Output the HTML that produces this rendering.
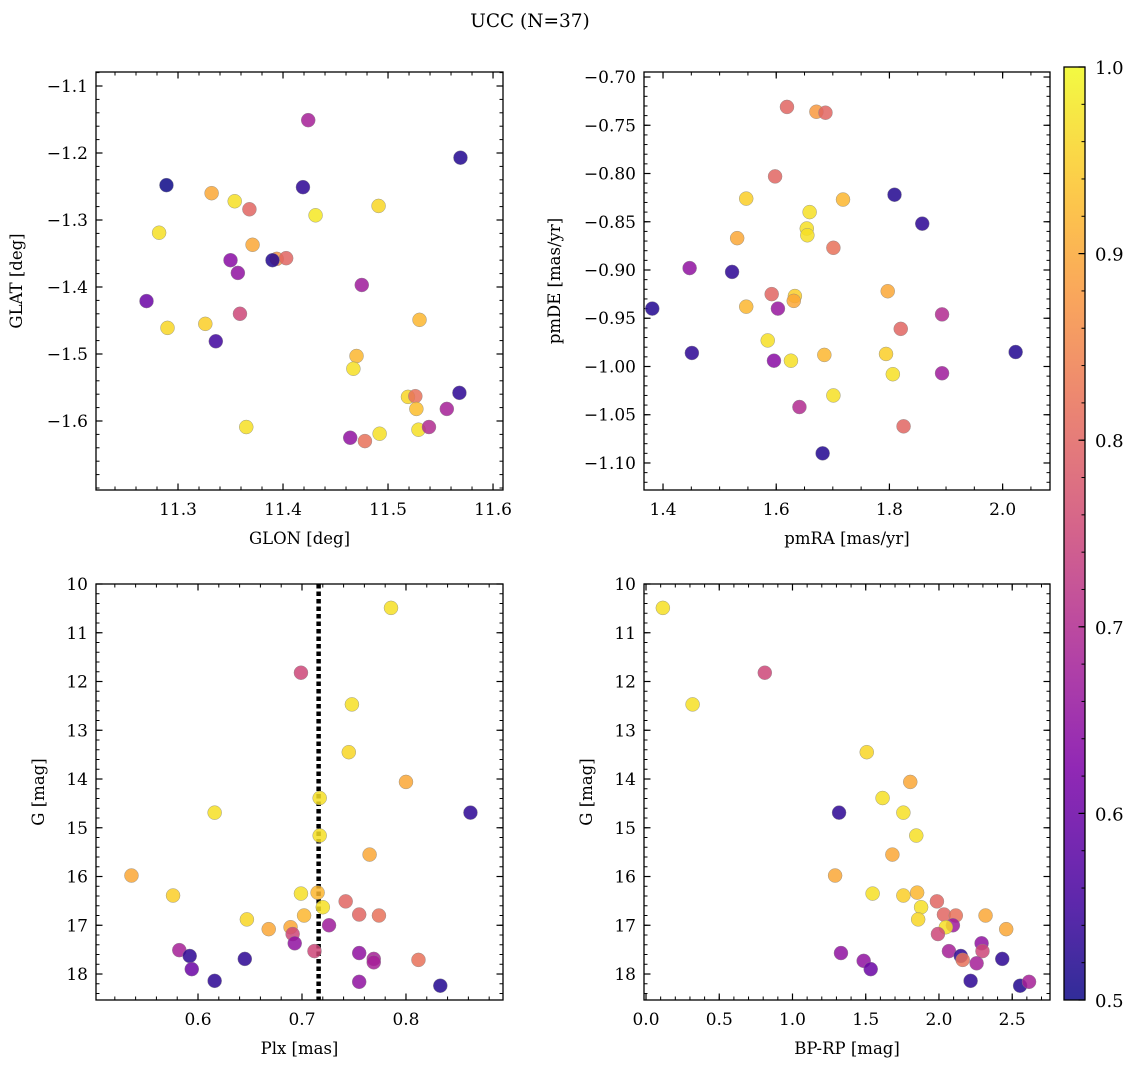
<!DOCTYPE html>
<html><head><meta charset="utf-8"><style>
body{margin:0;background:#fff;}
svg{display:block;font-family:"DejaVu Serif","Liberation Serif",serif;}
</style></head><body>
<svg id="fig" width="1136" height="1067" viewBox="0 0 1136 1067">
<text x="530" y="27" font-size="18.5" text-anchor="middle">UCC (N=37)</text>
</svg>
<script>
// Panel 1: GLON / GLAT
const glon=[11.424,11.569,11.289,11.419,11.332,11.354,11.368,11.491,11.431,11.282,11.371,11.394,11.403,11.390,11.350,11.357,11.475,11.270,11.359,11.290,11.326,11.336,11.530,11.470,11.467,11.568,11.519,11.526,11.556,11.527,11.365,11.529,11.539,11.464,11.478,11.492];
const glat=[-1.151,-1.207,-1.248,-1.251,-1.260,-1.272,-1.284,-1.279,-1.293,-1.319,-1.337,-1.358,-1.357,-1.360,-1.360,-1.379,-1.397,-1.421,-1.440,-1.461,-1.455,-1.481,-1.449,-1.503,-1.522,-1.558,-1.564,-1.563,-1.582,-1.582,-1.609,-1.613,-1.609,-1.625,-1.630,-1.619];
const prob1=[0.68,0.52,0.5,0.53,0.9,0.97,0.8,0.96,0.98,0.97,0.9,0.87,0.8,0.52,0.64,0.65,0.67,0.6,0.75,0.96,0.95,0.55,0.92,0.92,0.97,0.53,0.96,0.82,0.68,0.93,0.97,0.97,0.7,0.65,0.82,0.97];
// Panel 2: pmRA / pmDE
const pmra=[1.619,1.671,1.687,1.598,1.809,1.547,1.718,1.659,1.858,1.654,1.655,1.531,1.701,1.447,1.522,1.797,1.592,1.633,1.631,1.547,1.603,1.381,1.820,1.893,1.585,1.451,1.794,1.685,2.023,1.596,1.626,1.806,1.893,1.701,1.641,1.825,1.682];
const pmde=[-0.731,-0.736,-0.737,-0.803,-0.822,-0.826,-0.827,-0.840,-0.852,-0.857,-0.864,-0.867,-0.877,-0.898,-0.902,-0.922,-0.925,-0.927,-0.932,-0.938,-0.940,-0.940,-0.961,-0.946,-0.973,-0.986,-0.987,-0.988,-0.985,-0.994,-0.994,-1.008,-1.007,-1.030,-1.042,-1.062,-1.090];
const prob2=[0.8,0.88,0.8,0.8,0.52,0.95,0.92,0.97,0.53,0.97,0.97,0.9,0.82,0.65,0.53,0.9,0.8,0.95,0.9,0.92,0.66,0.52,0.8,0.7,0.97,0.53,0.95,0.92,0.52,0.64,0.97,0.97,0.67,0.97,0.7,0.8,0.52];
// Panel 3: Plx / G
const plx=[0.7856,0.699,0.748,0.745,0.800,0.616,0.862,0.717,0.717,0.765,0.536,0.576,0.699,0.715,0.742,0.720,0.702,0.755,0.774,0.647,0.726,0.689,0.668,0.691,0.693,0.712,0.582,0.592,0.755,0.769,0.769,0.812,0.645,0.594,0.616,0.755,0.833];
const gmag3=[10.49,11.82,12.47,13.45,14.06,14.69,14.69,14.39,15.16,15.55,15.98,16.39,16.35,16.33,16.51,16.63,16.80,16.78,16.80,16.88,17.00,17.04,17.08,17.18,17.37,17.53,17.51,17.63,17.57,17.69,17.76,17.71,17.69,17.90,18.14,18.16,18.24];
const prob3=[0.97,0.75,0.97,0.96,0.9,0.97,0.53,0.97,0.97,0.9,0.9,0.95,0.97,0.92,0.8,0.97,0.92,0.8,0.82,0.96,0.67,0.9,0.9,0.75,0.65,0.75,0.68,0.53,0.65,0.68,0.68,0.82,0.53,0.6,0.53,0.65,0.52];
const plxLine=[0.716];
// Panel 4: BP-RP / G
const bprp=[0.115,0.811,0.318,1.507,1.804,1.318,1.615,1.757,1.845,1.682,1.291,1.547,1.757,1.851,1.986,1.878,2.034,2.115,2.318,1.858,2.095,2.047,2.459,1.993,2.291,2.297,2.068,2.149,1.331,2.432,2.162,2.257,1.486,1.534,2.216,2.554,2.615];
const gmag4=[10.49,11.82,12.47,13.45,14.06,14.69,14.39,14.69,15.16,15.55,15.98,16.35,16.39,16.33,16.51,16.63,16.78,16.80,16.80,16.88,17.00,17.04,17.08,17.18,17.37,17.53,17.53,17.63,17.57,17.69,17.71,17.78,17.73,17.90,18.14,18.24,18.16];
const prob4=[0.97,0.75,0.97,0.96,0.9,0.53,0.97,0.97,0.97,0.9,0.9,0.97,0.95,0.92,0.8,0.97,0.8,0.82,0.9,0.96,0.67,0.97,0.9,0.75,0.65,0.75,0.68,0.53,0.65,0.53,0.82,0.68,0.65,0.6,0.53,0.52,0.68];
// tick arrays
const ticks1x=[11.3,11.4,11.5,11.6], ticks1y=[-1.1,-1.2,-1.3,-1.4,-1.5,-1.6];
const ticks2x=[1.4,1.6,1.8,2.0], ticks2y=[-0.70,-0.75,-0.80,-0.85,-0.90,-0.95,-1.00,-1.05,-1.10];
const ticks3x=[0.6,0.7,0.8], ticksG=[10,11,12,13,14,15,16,17,18];
const ticks4x=[0.0,0.5,1.0,1.5,2.0,2.5];
const cbTicks=[0.5,0.6,0.7,0.8,0.9,1.0];

const NS="http://www.w3.org/2000/svg";
const svg=document.getElementById('fig');
function mk(tag,attrs,parent){const e=document.createElementNS(NS,tag);for(const k in attrs)e.setAttribute(k,attrs[k]);(parent||svg).appendChild(e);return e;}
const stops=[[0,[13,8,135]],[0.125,[76,2,161]],[0.25,[126,3,168]],[0.375,[169,35,149]],[0.5,[204,71,120]],[0.625,[230,108,92]],[0.75,[248,149,64]],[0.875,[253,195,40]],[1,[240,249,33]]];
function plasma(t){t=Math.max(0,Math.min(1,t));for(let i=1;i<stops.length;i++){if(t<=stops[i][0]){const a=stops[i-1],b=stops[i];const f=(t-a[0])/(b[0]-a[0]);const c=a[1].map((v,j)=>Math.round(v+(b[1][j]-v)*f));return `rgb(${c.join(',')})`;}}return 'rgb(240,249,33)';}
function pc(p){return plasma((p-0.5)/0.5);}
function fmt(v,d){return (v<0?'\u2212':'')+Math.abs(v).toFixed(d);}

function panel(o){
  const g=mk('g',{});
  
  
  const sx=v=>o.x0+(v-o.xd[0])/(o.xd[1]-o.xd[0])*(o.x1-o.x0);
  const sy=v=>o.y0+(v-o.yd[0])/(o.yd[1]-o.yd[0])*(o.y1-o.y0);
  const xmin=Math.min(...o.xd),xmax=Math.max(...o.xd),ymin=Math.min(...o.yd),ymax=Math.max(...o.yd);
  for(let v=Math.ceil(xmin/o.xm-1e-6)*o.xm;v<=xmax+1e-9;v+=o.xm){const X=sx(v);mk('line',{x1:X,x2:X,y1:o.y1,y2:o.y1-3.5,stroke:'#000','stroke-width':1},g);mk('line',{x1:X,x2:X,y1:o.y0,y2:o.y0+3.5,stroke:'#000','stroke-width':1},g);}
  for(let v=Math.ceil(ymin/o.ym-1e-6)*o.ym;v<=ymax+1e-9;v+=o.ym){const Y=sy(v);mk('line',{x1:o.x0,x2:o.x0+3.5,y1:Y,y2:Y,stroke:'#000','stroke-width':1},g);mk('line',{x1:o.x1,x2:o.x1-3.5,y1:Y,y2:Y,stroke:'#000','stroke-width':1},g);}
  o.xt.forEach(v=>{const X=sx(v);mk('line',{x1:X,x2:X,y1:o.y1,y2:o.y1-6.5,stroke:'#000','stroke-width':1.2},g);mk('line',{x1:X,x2:X,y1:o.y0,y2:o.y0+6.5,stroke:'#000','stroke-width':1.2},g);
    const t=mk('text',{x:X,y:o.y1+25,'font-size':17,'text-anchor':'middle'},g);t.textContent=fmt(v,o.xdp);
    
    });
  o.yt.forEach(v=>{const Y=sy(v);mk('line',{x1:o.x0,x2:o.x0+6.5,y1:Y,y2:Y,stroke:'#000','stroke-width':1.2},g);mk('line',{x1:o.x1,x2:o.x1-6.5,y1:Y,y2:Y,stroke:'#000','stroke-width':1.2},g);
    const t=mk('text',{x:o.x0-8,y:Y+6,'font-size':17,'text-anchor':'end'},g);t.textContent=fmt(v,o.ydp);
    
    });
  if(o.vline){o.vline.forEach(v=>{const l=mk('line',{x1:sx(v),x2:sx(v),y1:o.y0,y2:o.y1,stroke:'#000','stroke-width':4.5,'stroke-dasharray':'4.5,3'},g);
    
    });}
  o.xs.forEach((v,i)=>{const c=mk('circle',{cx:sx(v),cy:sy(o.ys[i]),r:7,fill:pc(o.p[i]),'fill-opacity':0.85,stroke:'#888','stroke-width':0.5,'stroke-opacity':0.8},g);
    
    });
  mk('rect',{x:o.x0,y:o.y0,width:o.x1-o.x0,height:o.y1-o.y0,fill:'none',stroke:'#000','stroke-width':1.3},g);
  const xl=mk('text',{x:(o.x0+o.x1)/2,y:o.y1+54,'font-size':16.5,'text-anchor':'middle'},g);xl.textContent=o.xl;
  
  
  const cy=(o.y0+o.y1)/2;
  const yl=mk('text',{x:o.ylx,y:cy,'font-size':16.5,'text-anchor':'middle',transform:`rotate(-90 ${o.ylx} ${cy})`},g);yl.textContent=o.yl;
  
  
}
panel({name:'glon-glat-panel',x0:96,x1:503,y0:72,y1:490,xd:[11.2219,11.6095],yd:[-1.0791,-1.7030],xt:ticks1x,yt:ticks1y,xm:0.02,ym:0.02,xdp:1,ydp:1,xs:glon,ys:glat,p:prob1,xl:'GLON [deg]',yl:'GLAT [deg]',ylx:22});
panel({name:'pm-panel',x0:644,x1:1050,y0:72,y1:490,xd:[1.3664,2.0837],yd:[-0.6948,-1.1280],xt:ticks2x,yt:ticks2y,xm:0.05,ym:0.01,xdp:1,ydp:2,xs:pmra,ys:pmde,p:prob2,xl:'pmRA [mas/yr]',yl:'pmDE [mas/yr]',ylx:560});
panel({name:'plx-g-panel',x0:96,x1:503,y0:584,y1:1000,xd:[0.5019,0.8933],yd:[10,18.533],xt:ticks3x,yt:ticksG,xm:0.02,ym:0.2,xdp:1,ydp:0,xs:plx,ys:gmag3,p:prob3,xl:'Plx [mas]',yl:'G [mag]',ylx:44,vline:plxLine});
panel({name:'cmd-panel',x0:644,x1:1050,y0:584,y1:1000,xd:[-0.0137,2.758],yd:[10,18.533],xt:ticks4x,yt:ticksG,xm:0.1,ym:0.2,xdp:1,ydp:0,xs:bprp,ys:gmag4,p:prob4,xl:'BP-RP [mag]',yl:'G [mag]',ylx:592});

// colorbar
const cb=mk('g',{});


const defs=mk('defs',{},cb);const lg=mk('linearGradient',{id:'pl',x1:0,y1:1,x2:0,y2:0},defs);
for(let i=0;i<=20;i++){mk('stop',{offset:i/20,'stop-color':plasma(i/20)},lg);}
const cbx0=1064,cbx1=1085,cby0=67,cby1=1000;
mk('rect',{x:cbx0,y:cby0,width:cbx1-cbx0,height:cby1-cby0,fill:'url(#pl)','fill-opacity':0.85},cb);
const cys=v=>cby1-(v-0.5)/0.5*(cby1-cby0);
for(let v=0.5;v<=1.0001;v+=0.02){mk('line',{x1:cbx1,x2:cbx1-3.5,y1:cys(v),y2:cys(v),stroke:'#000'},cb);}
cbTicks.forEach(v=>{mk('line',{x1:cbx1,x2:cbx1-6.5,y1:cys(v),y2:cys(v),stroke:'#000','stroke-width':1.2},cb);
  const t=mk('text',{x:1095,y:cys(v)+7,'font-size':18},cb);t.textContent=v.toFixed(1);
  
  });
mk('rect',{x:cbx0,y:cby0,width:cbx1-cbx0,height:cby1-cby0,fill:'none',stroke:'#000','stroke-width':1.3},cb);
</script>
</body></html>
